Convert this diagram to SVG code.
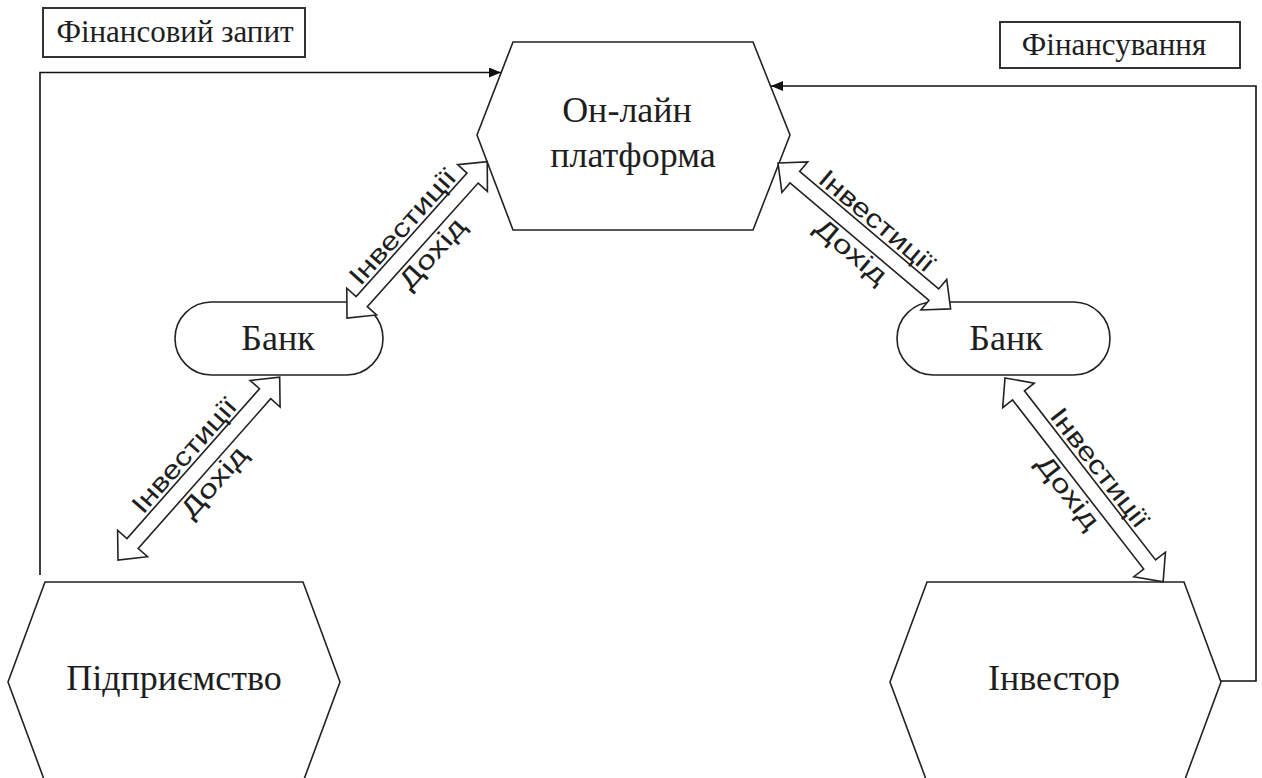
<svg xmlns="http://www.w3.org/2000/svg" width="1262" height="778" viewBox="0 0 1262 778">
<style>
.bg{fill:#ffffff}
.node{fill:#ffffff;stroke:#222;stroke-width:1.6}
.box{fill:#ffffff;stroke:#333;stroke-width:2}
.t{font-family:"Liberation Serif","Times New Roman",serif;fill:#1e1e1e;text-anchor:middle}
.nt{font-size:36px}
.bt{font-size:31px}
.line{fill:none;stroke:#111;stroke-width:1.6}
.barrow{fill:#ffffff;stroke:#222;stroke-width:1.6;stroke-linejoin:miter}
.al{font-family:"Liberation Sans",Arial,sans-serif;font-size:26px;fill:#1e1e1e;text-anchor:middle}
</style>
<defs>
<marker id="ah" viewBox="0 0 12 10" refX="12" refY="5" markerWidth="12" markerHeight="10" markerUnits="userSpaceOnUse" orient="auto">
<path d="M0,0 L12,5 L0,10 Z" fill="#111"/>
</marker>
</defs>
<rect class="bg" x="0" y="0" width="1262" height="778"/>

<g id="label-request">
<rect class="box" x="43" y="8" width="262" height="49"/>
<text class="t bt" x="175" y="42">Фінансовий запит</text>
</g>
<g id="label-funding">
<rect class="box" x="1000" y="22" width="240" height="46"/>
<text class="t bt" x="1114" y="55">Фінансування</text>
</g>

<g id="node-platform">
<polygon class="node" points="513,42 753,42 790,135 753,230 513,230 477,135"/>
<text class="t nt" x="627" y="122">Он-лайн</text>
<text class="t nt" x="633" y="167">платформа</text>
</g>
<g id="node-bank-left">
<rect class="node" x="175" y="302" width="208" height="73" rx="36.5" ry="36.5"/>
<text class="t nt" x="278" y="350">Банк</text>
</g>
<g id="node-bank-right">
<rect class="node" x="897" y="302" width="213" height="73" rx="36.5" ry="36.5"/>
<text class="t nt" x="1006" y="350">Банк</text>
</g>
<g id="node-enterprise">
<polygon class="node" points="45,582 303,582 340,682 303,782 45,782 8,682"/>
<text class="t nt" x="174" y="690">Підприємство</text>
</g>
<g id="node-investor">
<polygon class="node" points="927,582 1184,582 1221,682 1184,782 927,782 890,682"/>
<text class="t nt" x="1054" y="690">Інвестор</text>
</g>

<g id="connectors">
<path class="line" d="M40,575 V72.5 H501" marker-end="url(#ah)"/>
<path class="line" d="M1221,681 H1256 V86 H771" marker-end="url(#ah)"/>

<g transform="translate(347,318) rotate(-48.1)">
<polygon class="barrow" points="0,0 22,-20 22,-7.5 188,-7.5 188,-20 210,0 188,20 188,7.5 22,7.5 22,20"/>
<text class="al" x="105" y="-11" textLength="146" lengthAdjust="spacingAndGlyphs">Інвестиції</text>
<text class="al" x="105" y="29" textLength="86" lengthAdjust="spacingAndGlyphs">Дохід</text>
</g>
<g transform="translate(118,560) rotate(-48.5)">
<polygon class="barrow" points="0,0 22,-20 22,-7.5 222,-7.5 222,-20 244,0 222,20 222,7.5 22,7.5 22,20"/>
<text class="al" x="122" y="-11" textLength="144" lengthAdjust="spacingAndGlyphs">Інвестиції</text>
<text class="al" x="122" y="29" textLength="86" lengthAdjust="spacingAndGlyphs">Дохід</text>
</g>
<g transform="translate(778,163) rotate(40.2)">
<polygon class="barrow" points="0,0 22,-20 22,-7.5 204,-7.5 204,-20 226,0 204,20 204,7.5 22,7.5 22,20"/>
<text class="al" x="113" y="-11" textLength="143" lengthAdjust="spacingAndGlyphs">Інвестиції</text>
<text class="al" x="113" y="29" textLength="86" lengthAdjust="spacingAndGlyphs">Дохід</text>
</g>
<g transform="translate(1005,378) rotate(52.2)">
<polygon class="barrow" points="0,0 22,-20 22,-7.5 236,-7.5 236,-20 258,0 236,20 236,7.5 22,7.5 22,20"/>
<text class="al" x="129" y="-11" textLength="144" lengthAdjust="spacingAndGlyphs">Інвестиції</text>
<text class="al" x="129" y="29" textLength="86" lengthAdjust="spacingAndGlyphs">Дохід</text>
</g>
</g>
</svg>
